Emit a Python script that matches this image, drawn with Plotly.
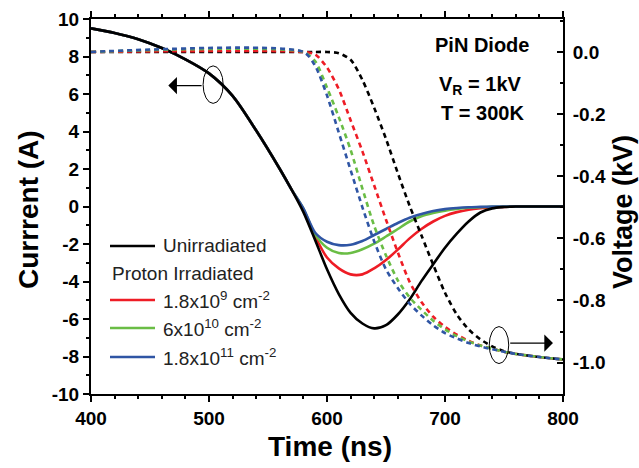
import plotly.graph_objects as go

# ---------------- data ----------------
t_current = [400, 420, 440, 460, 480, 500, 520, 540, 560, 570, 580, 590, 600, 610, 620, 630,
             640, 650, 660, 670, 680, 690, 700, 710, 720, 730, 740, 750, 760, 780, 800]
i_unirr = [9.5, 9.25, 8.92, 8.45, 7.85, 7.1, 5.9, 4.05, 2.0, 0.9, -0.3, -1.8, -3.35, -4.67,
           -5.67, -6.24, -6.5, -6.33, -5.76, -4.96, -3.98, -3.08, -2.2, -1.45, -0.8, -0.32, -0.1,
           -0.03, 0, 0, 0]
i_18e9 = [9.5, 9.25, 8.92, 8.45, 7.85, 7.1, 5.9, 4.05, 2.0, 0.9, -0.15, -1.6, -2.72, -3.3,
          -3.62, -3.62, -3.3, -2.85, -2.3, -1.7, -1.2, -0.8, -0.5, -0.3, -0.17, -0.09, -0.04,
          -0.02, 0, 0, 0]
i_6e10 = [9.5, 9.25, 8.92, 8.45, 7.85, 7.1, 5.9, 4.05, 2.0, 0.9, -0.12, -1.5, -2.2, -2.48,
          -2.48, -2.28, -1.98, -1.6, -1.2, -0.8, -0.52, -0.35, -0.22, -0.13, -0.07, -0.04, -0.02,
          0, 0, 0, 0]
i_18e11 = [9.5, 9.25, 8.92, 8.45, 7.85, 7.1, 5.9, 4.05, 2.0, 0.9, -0.1, -1.4, -1.88, -2.06,
           -2.04, -1.84, -1.52, -1.2, -0.88, -0.6, -0.4, -0.24, -0.14, -0.08, -0.04, -0.02, 0,
           0, 0, 0, 0]

t_voltage = [400, 580, 590, 600, 610, 620, 630, 640, 650, 660, 670, 680, 690, 700, 710, 720,
             730, 740, 750, 760, 780, 800]
v_unirr = [0, 0, 0, 0, -0.004, -0.025, -0.09, -0.18, -0.28, -0.39, -0.495, -0.59, -0.685,
           -0.775, -0.845, -0.893, -0.925, -0.948, -0.963, -0.972, -0.982, -0.99]
v_18e9 = [0, 0, -0.008, -0.05, -0.12, -0.22, -0.32, -0.43, -0.54, -0.645, -0.74, -0.805, -0.852,
          -0.885, -0.91, -0.93, -0.945, -0.955, -0.965, -0.972, -0.982, -0.99]
v_6e10 = [0, 0, -0.03, -0.115, -0.21, -0.315, -0.44, -0.56, -0.655, -0.735, -0.79, -0.83,
          -0.865, -0.893, -0.915, -0.932, -0.945, -0.955, -0.965, -0.972, -0.982, -0.99]
v_18e11 = [0, 0, -0.045, -0.14, -0.26, -0.38, -0.5, -0.61, -0.70, -0.76, -0.81, -0.848, -0.88,
           -0.905, -0.922, -0.937, -0.948, -0.957, -0.965, -0.972, -0.982, -0.99]

x_ticks = [400, 500, 600, 700, 800]
x_ticklabels = ["400", "500", "600", "700", "800"]
y_ticks = [-10, -8, -6, -4, -2, 0, 2, 4, 6, 8, 10]
y_ticklabels = ["-10", "-8", "-6", "-4", "-2", "0", "2", "4", "6", "8", "10"]
y2_ticks = [-1.0, -0.8, -0.6, -0.4, -0.2, 0.0]
y2_ticklabels = ["-1.0", "-0.8", "-0.6", "-0.4", "-0.2", "0.0"]

series_names = ["Unirradiated", "1.8x10<sup>9</sup> cm<sup>-2</sup>",
                "6x10<sup>10</sup> cm<sup>-2</sup>", "1.8x10<sup>11</sup> cm<sup>-2</sup>"]
colors = ["#000000", "#ee1c25", "#6abd45", "#2f55a4"]

# ---------------- figure ----------------
FONT = "Liberation Sans, Arial, Helvetica, sans-serif"
fig = go.Figure()

currents = [i_unirr, i_18e9, i_6e10, i_18e11]
voltages = [v_unirr, v_18e9, v_6e10, v_18e11]

# colored current curves first, black on top
for k in [1, 2, 3, 0]:
    fig.add_trace(go.Scatter(x=t_current, y=currents[k], mode="lines", name=series_names[k],
                             line=dict(color=colors[k], width=2.6, shape="spline", smoothing=0.8),
                             showlegend=False))
for k in [0, 1, 2, 3]:
    fig.add_trace(go.Scatter(x=t_voltage, y=voltages[k], mode="lines", name=series_names[k],
                             yaxis="y2",
                             line=dict(color=colors[k], width=2.6, dash="5px,4px",
                                       shape="spline", smoothing=0.7),
                             showlegend=False))

L, R, T, B = 91, 76, 19, 74
W, H = 639, 468
PW, PH = W - L - R, H - T - B


def px(x):
    return (x - L) / PW


def py(y):
    return (H - B - y) / PH


tick_font = dict(family=FONT, size=19, color="black", weight="bold")

fig.update_layout(
    width=W, height=H,
    margin=dict(l=L, r=R, t=T, b=B, autoexpand=False),
    paper_bgcolor="white", plot_bgcolor="white",
    font=dict(family=FONT, color="black"),
    showlegend=False,
    xaxis=dict(range=[400, 800], tickmode="array", tickvals=x_ticks, ticktext=x_ticklabels,
               ticks="outside", ticklen=6, tickwidth=2, tickcolor="black",
               minor=dict(ticks="outside", ticklen=3, tickwidth=1.5, dtick=20, tick0=400,
                          tickcolor="black"),
               showline=True, linewidth=2, linecolor="black", mirror="ticks",
               showgrid=False, zeroline=False, tickfont=tick_font, automargin=False),
    yaxis=dict(range=[-10, 10], tickmode="array", tickvals=y_ticks, ticktext=y_ticklabels,
               ticks="outside", ticklen=6, tickwidth=2, tickcolor="black",
               minor=dict(ticks="outside", ticklen=3, tickwidth=1.5, dtick=1, tick0=0,
                          tickcolor="black"),
               showline=True, linewidth=2, linecolor="black",
               showgrid=False, zeroline=False, tickfont=tick_font, automargin=False),
    yaxis2=dict(range=[-1.101, 0.106], overlaying="y", side="right",
                tickmode="array", tickvals=y2_ticks, ticktext=y2_ticklabels,
                ticks="inside", ticklen=6, tickwidth=2, tickcolor="black",
                minor=dict(ticks="inside", ticklen=3, tickwidth=1.5, dtick=0.1, tick0=0,
                           tickcolor="black"),
                showline=True, linewidth=2, linecolor="black",
                showgrid=False, zeroline=False, tickfont=tick_font,
                ticklabelstandoff=4, automargin=False),
)

title_font = dict(family=FONT, size=28, color="black", weight="bold")
annos = [
    dict(text="Time (ns)", x=px(330), y=py(446), font=title_font),
    dict(text="Currrent (A)", x=px(28), y=py(210), font=title_font, textangle=-90),
    dict(text="Voltage (kV)", x=px(623), y=py(212), font=dict(title_font, size=27),
         textangle=-90),
]
info_font = dict(family=FONT, size=20, color="black", weight="bold")
annos += [
    dict(text="PiN Diode", x=px(482), y=py(45), font=info_font),
    dict(text="V<sub>R</sub> = 1kV", x=px(480), y=py(85), font=info_font),
    dict(text="T = 300K", x=px(482), y=py(113), font=info_font),
]
leg_font = dict(family=FONT, size=19, color="#222222")
leg_rows = [(246, 0), (300, 1), (328, 2), (357, 3)]
for yy, k in leg_rows:
    annos.append(dict(text=series_names[k], x=px(161), y=py(yy), xanchor="left",
                      font=leg_font))
annos.append(dict(text="Proton Irradiated", x=px(110), y=py(273), xanchor="left",
                  font=leg_font))

for a in annos:
    a.setdefault("xref", "paper")
    a.setdefault("yref", "paper")
    a.setdefault("showarrow", False)
    a.setdefault("yanchor", "middle")
    a.setdefault("xanchor", "center")
    fig.add_annotation(**a)

shapes = []
for yy, k in leg_rows:
    shapes.append(dict(type="line", xref="paper", yref="paper", x0=px(110), x1=px(155),
                       y0=py(yy), y1=py(yy), line=dict(color=colors[k], width=2.6)))
# ellipses marking which curves belong to which axis
shapes.append(dict(type="circle", xref="x", yref="y", x0=495, x1=512, y0=5.5, y1=7.5,
                   line=dict(color="black", width=1)))
shapes.append(dict(type="circle", xref="x", yref="y2", x0=737.5, x1=754, y0=-1.003, y1=-0.884,
                   line=dict(color="black", width=1)))
for s in shapes:
    fig.add_shape(**s)

fig.add_annotation(x=465.5, y=6.45, ax=495, ay=6.45, xref="x", yref="y", axref="x", ayref="y",
                   text="", showarrow=True, arrowhead=1, arrowsize=2.4, arrowwidth=1.2,
                   arrowcolor="black")
fig.add_annotation(x=791.5, y=-0.937, ax=754, ay=-0.937, xref="x", yref="y2", axref="x",
                   ayref="y2", text="", showarrow=True, arrowhead=1, arrowsize=2.4,
                   arrowwidth=1.2, arrowcolor="black")

fig.write_html("out.html", config={"displayModeBar": False},
               post_script="document.body.style.margin='0';document.body.style.overflow='hidden';")
